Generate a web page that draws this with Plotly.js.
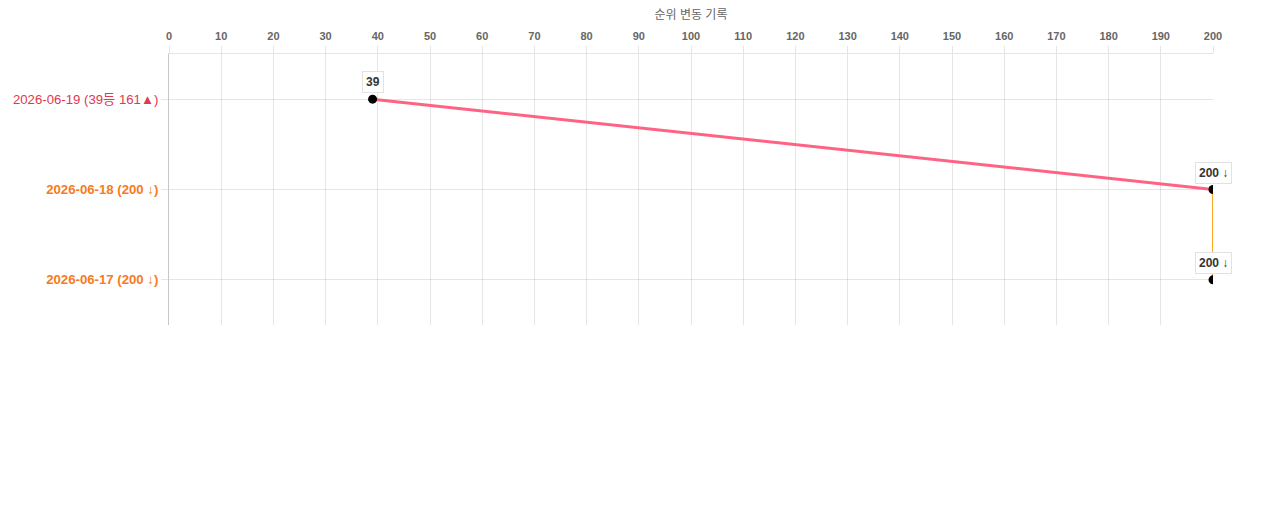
<!DOCTYPE html>
<html><head><meta charset="utf-8">
<script src="https://cdn.plot.ly/plotly-3.0.1.min.js"></script>
<style>html,body{margin:0;padding:0;background:#fff;}#chart{width:1280px;height:510px;}</style>
</head><body><div id="chart"></div>
<script>
const dates = ['2026-06-19', '2026-06-18', '2026-06-17'];
const ranks = [39, 200, 200];
const changeText = ['39등 161▲', '200 ↓', '200 ↓'];
const pointLabels = ['39', '200 ↓', '200 ↓'];
const labelColors = ['#e0384e', '#f77a1e', '#f77a1e'];
const labelBold = [false, true, true];
const segmentColors = ['#ff6384', '#ffa726'];
const xTicks = [0,10,20,30,40,50,60,70,80,90,100,110,120,130,140,150,160,170,180,190,200];

const traces = [];
for (let i = 0; i < dates.length - 1; i++) {
  traces.push({
    x: [ranks[i], ranks[i+1]], y: [dates[i], dates[i+1]],
    type: 'scatter', mode: 'lines',
    line: {color: segmentColors[i], width: i === 0 ? 3 : 2},
    hoverinfo: 'skip', showlegend: false
  });
}
traces.push({
  x: ranks, y: dates, type: 'scatter', mode: 'markers',
  marker: {color: '#000', size: 9},
  showlegend: false
});

const annotations = dates.map((d, i) => ({
  x: ranks[i], y: d, xref: 'x', yref: 'y',
  text: '<b>' + pointLabels[i] + '</b>', showarrow: false,
  yshift: 17, bgcolor: '#fff', bordercolor: '#e2e2e2', borderwidth: 1, borderpad: 3,
  font: {family: 'Liberation Sans, Arial, Noto Sans CJK KR, sans-serif', size: 12, color: '#333'}
}));

const layout = {
  width: 1280, height: 510,
  margin: {l: 169, r: 67, t: 54, b: 185},
  paper_bgcolor: '#fff', plot_bgcolor: '#fff',
  font: {family: 'Liberation Sans, Arial, Noto Sans CJK KR, sans-serif'},
  xaxis: {
    side: 'top', range: [0, 200], tickvals: xTicks, ticktext: xTicks.map(String),
    showgrid: true, gridcolor: 'rgba(0,0,0,0.1)', gridwidth: 1,
    ticks: 'outside', ticklen: 7, tickcolor: 'rgba(0,0,0,0.1)',
    ticklabelstandoff: 2,
    showline: true, linecolor: 'rgba(0,0,0,0.1)', linewidth: 1,
    zeroline: false,
    tickfont: {size: 11, color: '#666', weight: 'bold'},
    title: {text: '순위 변동 기록', font: {size: 12, color: '#666'}, standoff: 7},
    fixedrange: true
  },
  yaxis: {
    type: 'category', categoryorder: 'array', categoryarray: dates,
    range: [2.5, -0.5], autorange: false,
    tickvals: dates,
    ticktext: dates.map((d, i) => {
      const t = d + ' (' + changeText[i] + ')';
      return '<span style="color:' + labelColors[i] + '">' + (labelBold[i] ? '<b>' + t + '</b>' : t) + '</span>';
    }),
    showgrid: true, gridcolor: 'rgba(0,0,0,0.1)',
    ticks: 'outside', ticklen: 7, tickcolor: 'rgba(0,0,0,0.1)',
    showline: true, linecolor: 'rgba(0,0,0,0.22)', linewidth: 1,
    zeroline: false,
    tickfont: {size: 13.2, color: '#e0384e'},
    fixedrange: true
  },
  annotations: annotations,
  hovermode: false
};
Plotly.newPlot('chart', traces, layout, {displayModeBar: false, staticPlot: true});
</script></body></html>
